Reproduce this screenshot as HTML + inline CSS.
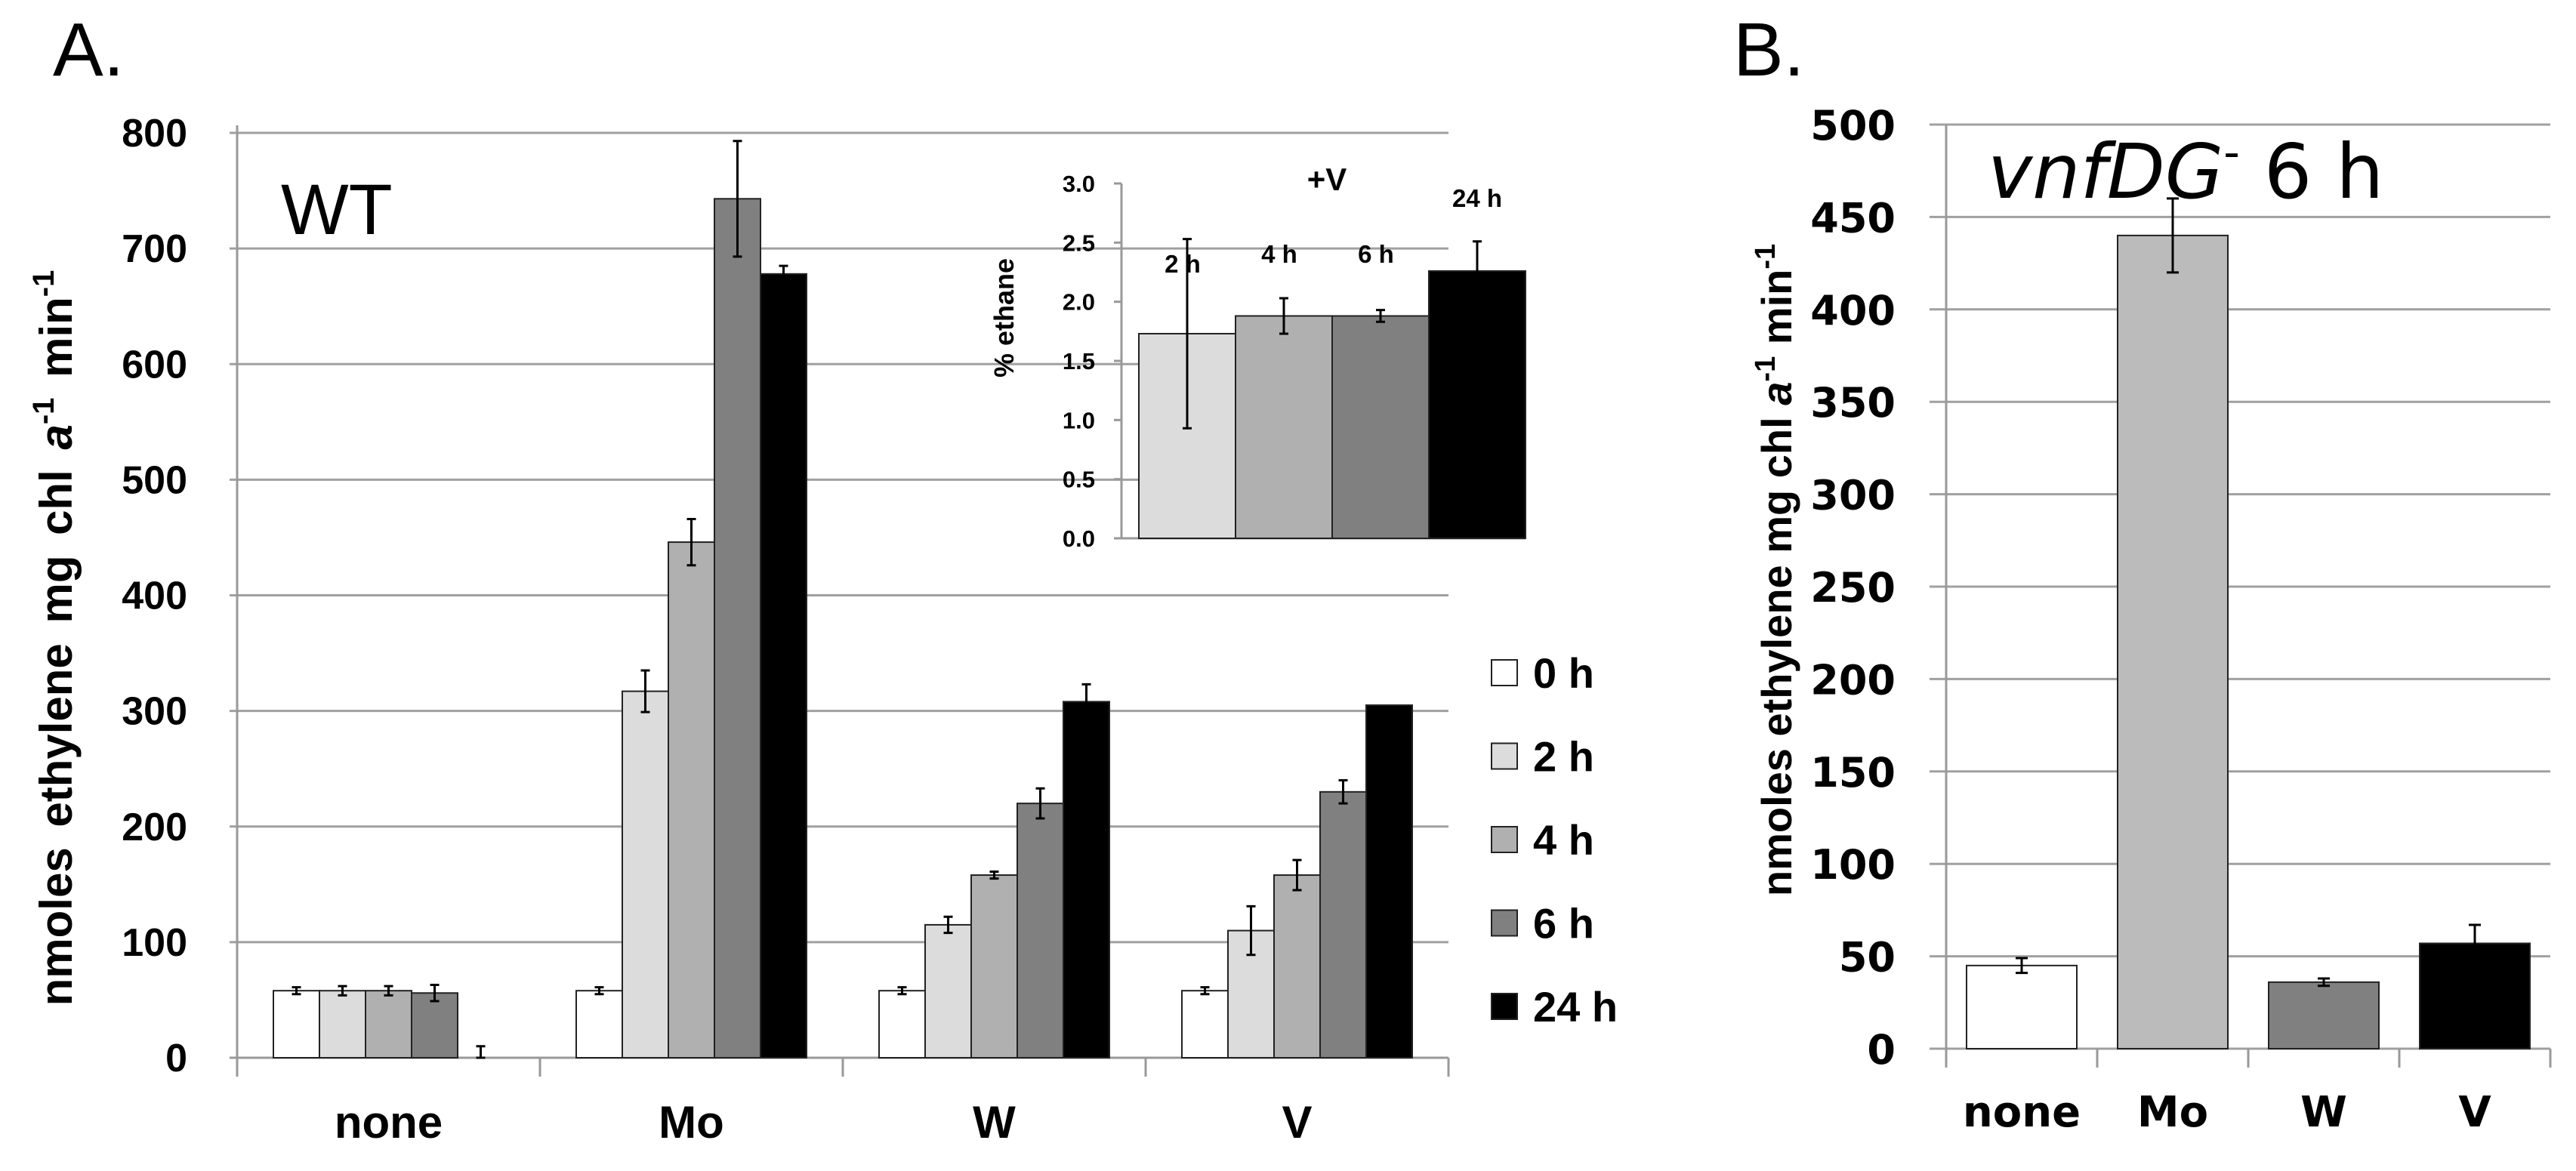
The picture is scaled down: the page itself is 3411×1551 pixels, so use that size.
<!DOCTYPE html>
<html><head><meta charset="utf-8"><style>
html,body{margin:0;padding:0;background:#fff;}
svg{display:block;font-family:"Liberation Sans",sans-serif;}
</style></head><body>
<svg id="fig" width="3411" height="1551" viewBox="0 0 3411 1551">
<text x="70" y="100" font-size="100">A.</text>
<text x="2295" y="100" font-size="100">B.</text>
<text x="372" y="310" font-size="95">WT</text>
<text transform="translate(95,845) rotate(-90)" text-anchor="middle" font-size="60" font-weight="bold" word-spacing="10">nmoles ethylene mg chl <tspan font-style="italic">a</tspan><tspan dy="-24" font-size="40">-1</tspan><tspan dy="24"> min</tspan><tspan dy="-24" font-size="40">-1</tspan></text>
<text transform="translate(2372,755) rotate(-90)" text-anchor="middle" font-size="56" font-weight="bold">nmoles ethylene mg chl <tspan font-style="italic">a</tspan><tspan dy="-22" font-size="38">-1</tspan><tspan dy="22"> min</tspan><tspan dy="-22" font-size="38">-1</tspan></text>
<text x="2632" y="262" font-size="100" font-family="DejaVu Sans,sans-serif"><tspan font-style="italic">vnfDG</tspan><tspan dy="-40" font-size="60">-</tspan><tspan dy="40"> 6 h</tspan></text>
<g id="gA"></g><g id="gInset"></g><g id="gB"></g>
</svg>
<script>
const catsA=["none","Mo","W","V"];
const seriesA=["0 h","2 h","4 h","6 h","24 h"];
const valsA=[[58,58,58,56,0],[58,317,446,743,678],[58,115,158,220,308],[58,110,158,230,305]];
const errsA=[[3,4,4,7,10],[3,18,20,50,7],[3,7,3,13,15],[3,21,13,10,0]];
const ticksA=[0,100,200,300,400,500,600,700,800];
const colorsA=["#ffffff","#dcdcdc","#b0b0b0","#808080","#000000"];
const insetCats=["2 h","4 h","6 h","24 h"];
const insetVals=[1.73,1.88,1.88,2.26];
const insetErrs=[0.8,0.15,0.05,0.25];
const insetTicks=[0,0.5,1,1.5,2,2.5,3];
const catsB=["none","Mo","W","V"];
const valsB=[45,440,36,57];
const errsB=[4,20,2,10];
const ticksB=[0,50,100,150,200,250,300,350,400,450,500];
const colorsB=["#ffffff","#bbbbbb","#808080","#000000"];
const NS="http://www.w3.org/2000/svg";
function mk(p,t,a,txt){const e=document.createElementNS(NS,t);for(const k in a)e.setAttribute(k,a[k]);if(txt!==undefined)e.textContent=txt;p.appendChild(e);return e;}
function errbar(g,x,y1,y2,w){
 const e=mk(g,"path",{d:`M${x},${y1}V${y2}M${x-w},${y1}H${x+w}M${x-w},${y2}H${x+w}`,stroke:"#000","stroke-width":3,fill:"none"});
 
 
}
// Panel A
(function(){
 const g=document.getElementById("gA");
 const x0=314,x1=1918,yTop=176,yBot=1401,max=800;
 const y=v=>yBot-(v/max)*(yBot-yTop);
 const cw=(x1-x0)/catsA.length, bw=61;
 ticksA.forEach(t=>{
  const l=mk(g,"line",{x1:x0-10,x2:x1,y1:y(t),y2:y(t),stroke:t===0?"#999":"#a0a0a0","stroke-width":3});
  
  
  const tx=mk(g,"text",{x:248,y:y(t)+18,"text-anchor":"end","font-size":52,"font-weight":"bold"},t);
  
  
 });
 const ax=mk(g,"line",{x1:x0,x2:x0,y1:yTop-10,y2:yBot+25,stroke:"#999","stroke-width":3});
 
 
 for(let i=0;i<=catsA.length;i++){const tk=mk(g,"line",{x1:x0+i*cw,x2:x0+i*cw,y1:yBot,y2:yBot+25,stroke:"#999","stroke-width":3});
  
  }
 catsA.forEach((c,i)=>{
  const gx=x0+i*cw+(cw-bw*5)/2;
  valsA[i].forEach((v,j)=>{
   const bx=gx+j*bw;
   if(v>0){const r=mk(g,"rect",{x:bx,y:y(v),width:bw,height:yBot-y(v),fill:colorsA[j],stroke:"#222","stroke-width":2});
    
    }
   if(errsA[i][j]>0)errbar(g,bx+bw/2,y(v+errsA[i][j]),y(Math.max(0,v-errsA[i][j])),6);
  });
  const lb=mk(g,"text",{x:x0+i*cw+cw/2,y:1507,"text-anchor":"middle","font-size":60,"font-weight":"bold"},c);
  
  
 });
 seriesA.forEach((s,j)=>{
  const cy=891+j*110.5;
  const r=mk(g,"rect",{x:1975,y:cy-17,width:34,height:34,fill:colorsA[j],stroke:"#222","stroke-width":2});
  
  
  const t=mk(g,"text",{x:2030,y:cy+20,"font-size":56,"font-weight":"bold"},s);
  
  
 });
})();
// Inset
(function(){
 const g=document.getElementById("gInset");
 const x0=1485,yTop=243,yBot=713,max=3;
 const y=v=>yBot-(v/max)*(yBot-yTop);
 const bx0=1508,bw=128;
 const ax=mk(g,"path",{d:`M${x0},${yTop}V${yBot}H${bx0+bw*4}`,stroke:"#999","stroke-width":3,fill:"none"});
 
 
 insetTicks.forEach(t=>{
  const l=mk(g,"line",{x1:x0-10,x2:x0,y1:y(t),y2:y(t),stroke:"#999","stroke-width":3});
  
  
  const tx=mk(g,"text",{x:1450,y:y(t)+11,"text-anchor":"end","font-size":31,"font-weight":"bold"},t.toFixed(1));
  
  
 });
 const cols=["#dcdcdc","#b0b0b0","#808080","#000000"];
 const lblY=[361,348,348,274];
 insetCats.forEach((c,i)=>{
  const x=bx0+i*bw,v=insetVals[i];
  const r=mk(g,"rect",{x:x,y:y(v),width:bw,height:yBot-y(v),fill:cols[i],stroke:"#222","stroke-width":2});
  
  
  errbar(g,x+bw/2,y(v+insetErrs[i]),y(v-insetErrs[i]),6);
  const t=mk(g,"text",{x:x+bw/2-(i<3?6:0),y:lblY[i],"text-anchor":"middle","font-size":33,"font-weight":"bold"},c);
  
  
 });
 const tt=mk(g,"text",{x:1757,y:252,"text-anchor":"middle","font-size":42,"font-weight":"bold"},"+V");
 
 
 const yt=mk(g,"text",{transform:"translate(1342,421) rotate(-90)","text-anchor":"middle","font-size":36,"font-weight":"bold"},"% ethane");
 
 
})();
// Panel B
(function(){
 const g=document.getElementById("gB");
 const x0=2577,x1=3377,yTop=165,yBot=1389,max=500;
 const y=v=>yBot-(v/max)*(yBot-yTop);
 const cw=(x1-x0)/catsB.length,bw=146;
 ticksB.forEach(t=>{
  const l=mk(g,"line",{x1:x0-22,x2:x1,y1:y(t),y2:y(t),stroke:"#a0a0a0","stroke-width":3});
  
  
  const tx=mk(g,"text",{x:2510,y:y(t)+20,"text-anchor":"end","font-size":54,"font-weight":"bold","font-family":"DejaVu Sans,sans-serif"},t);
  
  
 });
 const ax=mk(g,"line",{x1:x0,x2:x0,y1:yTop,y2:yBot+25,stroke:"#999","stroke-width":3});
 
 
 for(let i=0;i<=catsB.length;i++){const tk=mk(g,"line",{x1:x0+i*cw,x2:x0+i*cw,y1:yBot,y2:yBot+25,stroke:"#999","stroke-width":3});
  
  }
 catsB.forEach((c,i)=>{
  const bx=x0+i*cw+(cw-bw)/2,v=valsB[i];
  const r=mk(g,"rect",{x:bx,y:y(v),width:bw,height:yBot-y(v),fill:colorsB[i],stroke:"#222","stroke-width":2});
  
  
  errbar(g,bx+bw/2,y(v+errsB[i]),y(v-errsB[i]),8);
  const lb=mk(g,"text",{x:x0+i*cw+cw/2,y:1492,"text-anchor":"middle","font-size":56,"font-weight":"bold","font-family":"DejaVu Sans,sans-serif"},c);
  
  
 });
})();
</script>
</body></html>
